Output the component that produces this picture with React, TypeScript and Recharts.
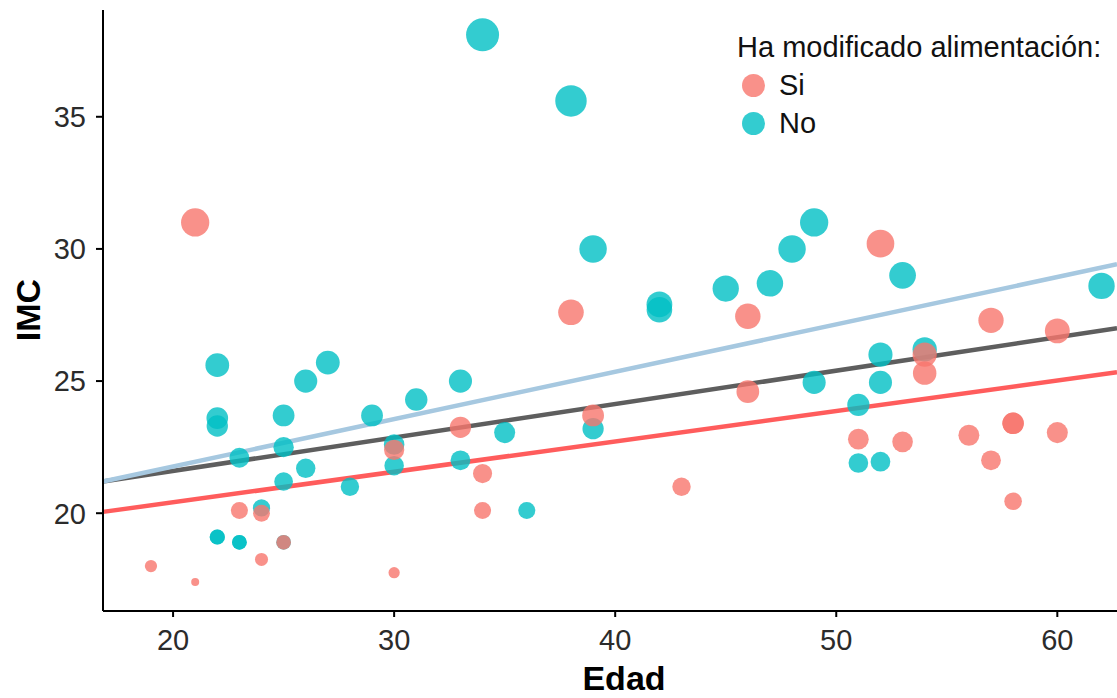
import React from 'react';
import { ScatterChart, Scatter, XAxis, YAxis, ReferenceLine } from 'recharts';

// Edad / IMC, grupo "Si" (ha modificado alimentación)
const siEdad = [19, 21, 21, 23, 24, 24, 25, 30, 30, 33, 34, 34, 38, 39, 43, 46, 46, 51, 52, 53, 54, 54, 56, 57, 57, 58, 58, 58, 60, 60];
const siImc = [18.0, 17.4, 31.0, 20.1, 20.0, 18.25, 18.9, 22.4, 17.75, 23.25, 21.5, 20.1, 27.6, 23.7, 21.0, 27.45, 24.6, 22.8, 30.2, 22.7, 26.0, 25.3, 22.95, 27.3, 22.0, 23.4, 23.4, 20.45, 26.9, 23.05];

// grupo "No"
const noEdad = [22, 22, 22, 22, 22, 23, 23, 23, 24, 25, 25, 25, 25, 26, 26, 27, 28, 29, 30, 30, 31, 33, 33, 34, 35, 36, 38, 39, 39, 42, 42, 45, 47, 48, 49, 49, 51, 51, 52, 52, 52, 53, 54, 62];
const noImc = [25.6, 23.6, 23.3, 19.1, 19.1, 22.1, 18.9, 18.9, 20.2, 23.7, 22.5, 21.2, 18.9, 25.0, 21.7, 25.7, 21.0, 23.7, 22.6, 21.8, 24.3, 25.0, 22.0, 38.1, 23.05, 20.1, 35.6, 30.0, 23.2, 27.9, 27.7, 28.5, 28.7, 30.0, 31.0, 24.95, 24.1, 21.9, 26.0, 24.95, 21.95, 29.0, 26.2, 28.6];

// rectas de regresión (valores en los bordes del eje x)
const fitEdad = [16.83, 62.7];
const fitSi = [20.05, 25.33];
const fitNo = [21.2, 29.42];
const fitTodos = [21.2, 27.0];

const xTicks = [20, 30, 40, 50, 60];
const yTicks = [20, 25, 30, 35];

const grupos = [
  { name: 'Si', color: '#F8766D' },
  { name: 'No', color: '#00BFC4' },
];

const toPoints = (xs: number[], ys: number[]) => xs.map((edad, i) => ({ edad, imc: ys[i] }));
const siData = toPoints(siEdad, siImc);
const noData = toPoints(noEdad, noImc);

const allImc = [...siImc, ...noImc];
const imcMin = Math.min(...allImc);
const imcMax = Math.max(...allImc);

const radius = (imc: number) => 4 + 12.5 * Math.sqrt((imc - imcMin) / (imcMax - imcMin));

const dot = (color: string) => (props: any) => (
  <circle cx={props.cx} cy={props.cy} r={radius(props.payload.imc)} fill={color} fillOpacity={0.8} />
);

const font = '"Liberation Sans", Arial, sans-serif';
const tickStyle = { fontSize: 29, fill: '#2b2b2b', fontFamily: font };

const App: React.FC = () => {
  return (
    <div style={{ position: 'absolute', left: 0, top: 0, width: 1117, height: 698, overflow: 'hidden', background: '#fff', fontFamily: font }}>
      <ScatterChart width={1117} height={698} margin={{ top: 10, right: 0, bottom: 0, left: 0 }}>
        <XAxis
          type="number"
          dataKey="edad"
          domain={[fitEdad[0], fitEdad[1]]}
          ticks={xTicks}
          allowDataOverflow
          height={87}
          tickSize={6}
          tickMargin={12}
          tick={tickStyle}
          axisLine={{ stroke: '#000', strokeWidth: 2 }}
          tickLine={{ stroke: '#000', strokeWidth: 2 }}
          label={() => (
            <text x={624} y={690} textAnchor="middle" fontSize={34} fontWeight="bold" fill="#000" fontFamily={font}>
              Edad
            </text>
          )}
        />
        <YAxis
          type="number"
          dataKey="imc"
          domain={[16.3, 39.04]}
          ticks={yTicks}
          allowDataOverflow
          width={103}
          tickSize={7}
          tickMargin={10}
          tick={tickStyle}
          axisLine={{ stroke: '#000', strokeWidth: 2 }}
          tickLine={{ stroke: '#000', strokeWidth: 2 }}
          label={() => (
            <text x={40} y={310} transform="rotate(-90, 40, 310)" textAnchor="middle" fontSize={34} fontWeight="bold" fill="#000" fontFamily={font}>
              IMC
            </text>
          )}
        />
        <Scatter name="No" data={noData} shape={dot('#00BFC4')} isAnimationActive={false} />
        <Scatter name="Si" data={siData} shape={dot('#F8766D')} isAnimationActive={false} />
        <ReferenceLine
          segment={[{ x: fitEdad[0], y: fitTodos[0] }, { x: fitEdad[1], y: fitTodos[1] }]}
          stroke="#5E5E5E"
          strokeWidth={4.5}
          ifOverflow="visible"
        />
        <ReferenceLine
          segment={[{ x: fitEdad[0], y: fitNo[0] }, { x: fitEdad[1], y: fitNo[1] }]}
          stroke="#A6C8E0"
          strokeWidth={4.5}
          ifOverflow="visible"
        />
        <ReferenceLine
          segment={[{ x: fitEdad[0], y: fitSi[0] }, { x: fitEdad[1], y: fitSi[1] }]}
          stroke="#FF5C5C"
          strokeWidth={4.5}
          ifOverflow="visible"
        />
      </ScatterChart>
      <div style={{ position: 'absolute', left: 737, top: 28, fontSize: 29, lineHeight: '38px', color: '#111' }}>
        <div>Ha modificado alimentación:</div>
        {grupos.map((g) => (
          <div key={g.name} style={{ display: 'flex', alignItems: 'center' }}>
            <span
              style={{
                display: 'inline-block',
                width: 23,
                height: 23,
                borderRadius: '50%',
                background: g.color,
                opacity: 0.8,
                marginLeft: 5,
                marginRight: 14,
              }}
            />
            {g.name}
          </div>
        ))}
      </div>
    </div>
  );
};

export default App;
